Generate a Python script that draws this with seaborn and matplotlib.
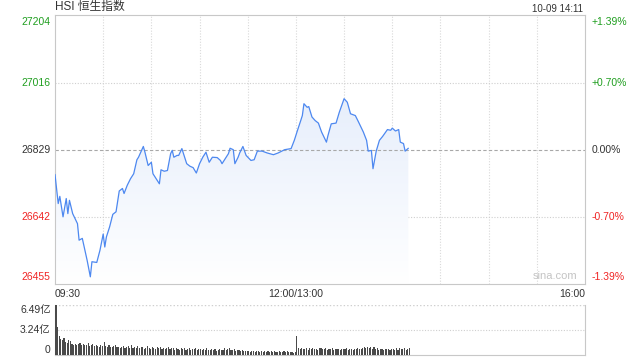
import numpy as np
import pandas as pd
import matplotlib
matplotlib.use("Agg")
import matplotlib.pyplot as plt
import seaborn as sns
from matplotlib.colors import LinearSegmentedColormap

# ---------------- data ----------------
minutes = [0, 2, 3, 5, 7, 8, 9, 11, 14, 15, 17, 20, 22, 23, 26, 28, 30, 31, 32, 34,
           36, 38, 40, 42, 43, 45, 47, 49, 51, 52, 55, 56, 58, 60, 61, 63, 65, 66, 68, 70,
           72, 73, 74, 76, 77, 79, 80, 82, 84, 86, 88, 90, 92, 94, 96, 98, 101, 103, 104, 106,
           108, 109, 111, 112, 114, 115, 117, 119, 122, 124, 126, 129, 132, 136, 139, 143, 147, 149, 151, 153,
           154, 155, 157, 158, 160, 162, 164, 166, 169, 170, 172, 175, 177, 180, 182, 184, 187, 189, 192, 194,
           195, 197, 198, 200, 202, 204, 207, 209, 210, 212, 214, 215, 217, 218, 219, 220]
prices = [26760, 26679, 26699, 26642, 26693, 26651, 26688, 26651, 26623, 26577, 26582, 26521, 26475, 26517, 26515, 26549, 26594, 26558, 26586, 26614,
          26649, 26656, 26714, 26721, 26707, 26730, 26748, 26762, 26801, 26808, 26838, 26822, 26785, 26794, 26762, 26748, 26734, 26773, 26769, 26771,
          26818, 26827, 26808, 26813, 26813, 26832, 26818, 26790, 26783, 26779, 26764, 26790, 26808, 26822, 26794, 26808, 26807, 26799, 26790, 26804,
          26818, 26833, 26829, 26790, 26808, 26820, 26838, 26813, 26799, 26801, 26825, 26825, 26820, 26815, 26820, 26829, 26832, 26855, 26883, 26910,
          26924, 26957, 26947, 26949, 26920, 26910, 26903, 26878, 26850, 26869, 26901, 26903, 26933, 26971, 26961, 26929, 26924, 26906, 26878, 26855,
          26825, 26827, 26776, 26825, 26855, 26866, 26885, 26883, 26889, 26881, 26885, 26850, 26846, 26825, 26829, 26833]

volume = [6.49, 3.62, 2.45, 2.05, 1.98, 2.15, 1.70, 1.62, 2.00, 1.85,
          1.40, 1.32, 1.45, 1.25, 1.38, 1.55, 1.30, 1.42, 1.28, 1.35,
          1.50, 1.20, 1.33, 1.45, 1.15, 1.28, 1.12, 1.05, 1.30, 1.18,
          1.70, 1.22, 1.10, 1.35, 1.05, 0.98, 1.15, 1.25, 1.02, 1.10,
          0.95, 1.08, 1.20, 0.90, 1.00, 1.12, 0.88, 1.30, 0.95, 1.05,
          0.92, 1.15, 0.85, 1.00, 1.10, 0.82, 0.96, 1.20, 0.88, 0.80,
          1.05, 0.90, 0.78, 1.00, 0.86, 1.10, 0.80, 0.92, 0.75, 0.88,
          0.98, 0.72, 0.85, 0.95, 0.70, 0.90, 0.82, 0.68, 0.88, 0.76,
          0.85, 0.70, 0.78, 0.92, 0.66, 0.80, 0.74, 0.88, 0.64, 0.72,
          0.80, 0.68, 0.75, 0.62, 0.85, 0.70, 0.60, 0.78, 0.66, 0.72,
          0.58, 0.70, 0.82, 0.62, 0.68, 0.90, 0.60, 0.74, 0.95, 0.66,
          0.62, 0.80, 0.56, 0.70, 0.64, 0.52, 0.60, 0.55, 0.48, 0.58,
          0.50, 0.45, 0.55, 0.48, 0.42, 0.52, 0.46, 0.40, 0.50, 0.44,
          0.48, 0.38, 0.52, 0.42, 0.46, 0.40, 0.55, 0.38, 0.44, 0.50,
          0.42, 0.36, 0.48, 0.40, 0.58, 0.38, 0.34, 0.40, 0.30, 0.45,
          2.50, 0.95, 0.72, 0.88, 0.80, 0.75, 0.92, 0.70, 0.85, 0.78,
          0.90, 0.74, 0.82, 0.68, 0.86, 0.95, 0.72, 0.80, 0.88, 0.70,
          0.84, 0.76, 0.92, 0.70, 0.78, 0.74, 0.82, 0.68, 0.76, 0.80,
          0.72, 0.85, 0.70, 0.78, 0.74, 0.66, 0.80, 0.72, 0.88, 0.76,
          0.82, 0.95, 1.05, 0.90, 1.10, 0.85, 0.98, 0.80, 1.02, 0.75,
          0.88, 0.70, 0.82, 0.76, 0.68, 0.80, 0.72, 0.78, 0.66, 0.84,
          0.74, 0.70, 0.86, 0.68, 0.92, 0.72, 0.78, 0.96, 0.70, 0.82, 0.88]

price_ticks = [26455, 26642, 26829, 27016, 27204]
price_labels = ["26455", "26642", "26829", "27016", "27204"]
pct_labels = ["-1.39%", "-0.70%", "0.00%", "+0.70%", "+1.39%"]
time_ticks = [0, 150, 330]
time_labels = ["09:30", "12:00/13:00", "16:00"]
vol_ticks = [0, 3.24, 6.49]
vol_labels = ["0", "3.24亿", "6.49亿"]
title = "HSI 恒生指数"
stamp = "10-09 14:11"

# ---------------- style ----------------
sns.set_theme(style="white")
plt.rcParams["font.family"] = ["Liberation Sans", "Noto Sans CJK SC", "DejaVu Sans"]

GREEN = "#1f9e1f"
RED = "#f02424"
DARK = "#333333"
LINE = "#4d88f0"
SPINE = "#c8c8c8"

W, H = 640, 360
fig = plt.figure(figsize=(6.4, 3.6), dpi=100)
L, R = 55, 585
ax = fig.add_axes([L / W, 1 - 284 / H, (R - L) / W, (284 - 15) / H])
vax = fig.add_axes([L / W, 1 - 355 / H, (R - L) / W, (355 - 305) / H])

# ---------------- price chart ----------------
df = pd.DataFrame({"t": minutes, "p": prices})
ax.set_xlim(0, 330)
ax.set_ylim(price_ticks[0], price_ticks[-1])

poly = ax.fill_between(df["t"], df["p"], price_ticks[0], color="none", lw=0)
cmap = LinearSegmentedColormap.from_list("g", ["#ffffff", "#dce7fa"])
grad = np.linspace(0, 1, 256).reshape(-1, 1)
im = ax.imshow(grad, cmap=cmap, origin="lower", aspect="auto",
               extent=[0, 330, price_ticks[0], price_ticks[-1]], zorder=1)
im.set_clip_path(poly.get_paths()[0], transform=ax.transData)

sns.lineplot(data=df, x="t", y="p", ax=ax, color=LINE, lw=0.9, zorder=3)

for x in range(30, 330, 30):
    ax.axvline(x, color="#d9d9d9", ls=(0, (1, 1.5)), lw=0.8, zorder=0)
for y in price_ticks[1:-1]:
    if y == price_ticks[2]:
        ax.axhline(y, color="#a8a8a8", ls=(0, (3, 2)), lw=0.8, zorder=2)
    else:
        ax.axhline(y, color="#cfcfcf", ls=(0, (1, 1.5)), lw=0.8, zorder=0)

ax.set_xticks([])
ax.set_yticks([])
ax.set_xlabel("")
ax.set_ylabel("")
for s in ax.spines.values():
    s.set_color(SPINE)
    s.set_linewidth(0.8)

colors = [RED, RED, DARK, GREEN, GREEN]
vas = ["bottom", "center", "center", "center", "top"]
offs = [2, 0, 0, 0, -2]
trL = ax.get_yaxis_transform()
for y, lab, pct, c, va, o in zip(price_ticks, price_labels, pct_labels, colors, vas, offs):
    yy = y + o * (price_ticks[-1] - price_ticks[0]) / 269
    ax.text(-0.008, yy, lab, transform=trL, ha="right", va=va, color=c, fontsize=7.5)
    ax.text(1.012, yy, pct, transform=trL, ha="left", va=va, color=c, fontsize=7.5)

ax.text(0.985, 0.012, "sina.com", transform=ax.transAxes, ha="right", va="bottom",
        color="#c4c4c4", fontsize=8)

# time labels
for t, lab in zip(time_ticks, time_labels):
    ha = "left" if t == time_ticks[0] else ("right" if t == time_ticks[-1] else "center")
    xf = (L + (R - L) * t / 330) / W
    fig.text(xf, 1 - 294 / H, lab, ha=ha, va="center", color=DARK, fontsize=7.5)

fig.text(L / W, 1 - 7 / H, title, ha="left", va="center", color=DARK, fontsize=8.5)
fig.text(583 / W, 1 - 9 / H, stamp, ha="right", va="center", color=DARK, fontsize=7)

# ---------------- volume chart ----------------
vt = np.arange(len(volume)) + 0.6
vax.bar(vt, volume, width=0.7, color="#4a4a4a", lw=0, zorder=3)
vax.set_xlim(0, 330)
vax.set_ylim(0, vol_ticks[-1])
vax.axhline(vol_ticks[1], color="#cfcfcf", ls=(0, (1, 1.5)), lw=0.8, zorder=0)
vax.axhline(vol_ticks[-1], color="#cfcfcf", ls=(0, (1, 1.5)), lw=1.0, zorder=0)
vax.set_xticks([])
vax.set_yticks([])
for k, s in vax.spines.items():
    s.set_color(SPINE)
    s.set_linewidth(0.8)
vax.spines["top"].set_visible(False)

trV = vax.get_yaxis_transform()
for v, lab, va in zip(vol_ticks, vol_labels, ["bottom", "center", "top"]):
    vax.text(-0.008, v, lab, transform=trV, ha="right", va=va, color=DARK, fontsize=7.5)

fig.savefig("out.png", dpi=100)
